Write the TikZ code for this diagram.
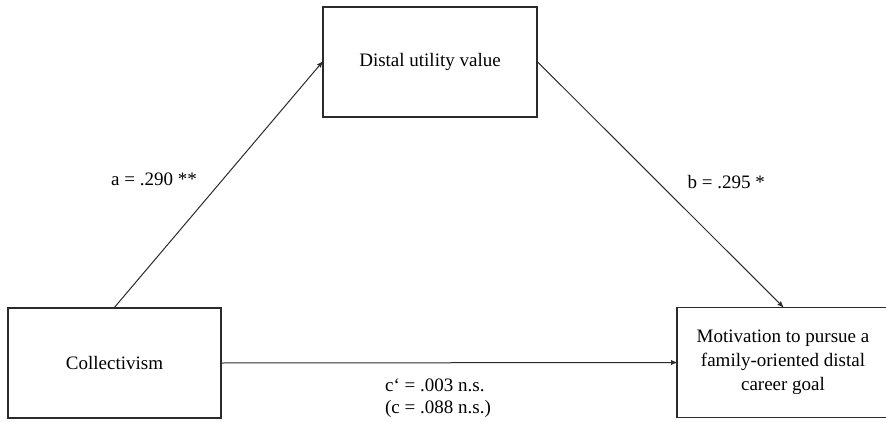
\documentclass[tikz,border=0pt]{standalone}
\usepackage{fontspec}
\setmainfont{Liberation Serif}
\usetikzlibrary{arrows}
\usetikzlibrary{positioning}
\tikzset{>=stealth'}
\definecolor{lineGray}{HTML}{2B2B2B}

\begin{document}
\begin{tikzpicture}[x=1pt, y=1pt, font=\fontsize{19}{24}\selectfont]
    \useasboundingbox (0,0) rectangle (886,421);
    \tikzset{box/.style={draw=lineGray, line width=1.3pt, inner sep=0pt, align=center, minimum height=110pt}}
    \tikzset{path/.style={draw=lineGray, line width=1pt, ->}}

    \node[box, minimum width=213pt] (coll)   at (114.5,58) {Collectivism};
    \node[box, minimum width=214pt] (distal) at (430,359) {Distal utility value};
    \node[box, minimum width=212pt] (motiv)  at (783,58.5) {Motivation to pursue a\\family-oriented distal\\career goal};

    \draw[path] (coll.north) -- (distal.west) node[pos=0.52, left=22pt] {a = .290 **};
    \draw[path] (distal.east) -- (motiv.north) node[pos=0.49, right=26pt] {b = .295 *};
    \draw[path] (coll.east) -- (motiv.west)
        node[midway, below=12pt, xshift=-11pt, align=left, font=\fontsize{19}{22}\selectfont] {c‘ = .003 n.s.\\(c = .088 n.s.)};
  \end{tikzpicture}
\end{document}
